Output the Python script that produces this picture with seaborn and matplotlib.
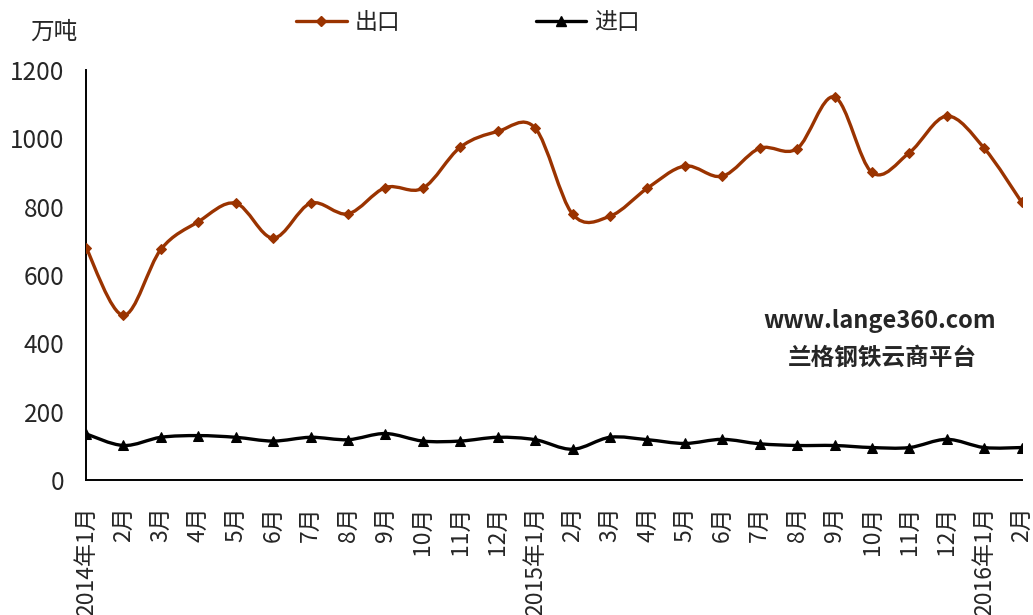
import numpy as np
import pandas as pd
import matplotlib
matplotlib.use("Agg")
import matplotlib.pyplot as plt
from matplotlib.path import Path
from matplotlib.patches import PathPatch
from matplotlib.lines import Line2D
import seaborn as sns

# Monthly steel trade, 2014-01 .. 2016-02 (10k tonnes)
month_labels = ["2014年1月", "2月", "3月", "4月", "5月", "6月", "7月", "8月", "9月",
                "10月", "11月", "12月",
                "2015年1月", "2月", "3月", "4月", "5月", "6月", "7月", "8月", "9月",
                "10月", "11月", "12月",
                "2016年1月", "2月"]
exports = [680, 482, 675, 756, 810, 708, 810, 779, 856, 854, 974, 1020,
           1030, 778, 772, 854, 919, 889, 971, 970, 1121, 900, 958, 1065,
           971, 813]
imports = [135, 101, 125, 130, 125, 114, 125, 118, 136, 114, 114, 125,
           118, 90, 125, 118, 107, 119, 106, 101, 101, 95, 95, 119,
           95, 95]

EXPORT_COLOR = "#9a3300"
IMPORT_COLOR = "#000000"

df = pd.DataFrame({"idx": np.arange(len(month_labels)),
                   "出口": exports, "进口": imports})

sns.set_theme(style="white")
plt.rcParams["font.family"] = ["Noto Sans CJK SC", "DejaVu Sans"]
plt.rcParams["axes.unicode_minus"] = False

fig = plt.figure(figsize=(10.33, 6.15), dpi=100)
ax = fig.add_axes([0.0833, 0.2195, 0.9057, 0.6667])


def smooth_path(xs, ys):
    """Cubic Bezier path through every point (Catmull-Rom style tangents)."""
    pts = np.column_stack([xs, ys]).astype(float)
    n = len(pts)
    verts = [pts[0]]
    codes = [Path.MOVETO]
    for i in range(n - 1):
        p0 = pts[i - 1] if i > 0 else pts[i]
        p1 = pts[i]
        p2 = pts[i + 1]
        p3 = pts[i + 2] if i + 2 < n else pts[i + 1]
        c1 = p1 + (p2 - p0) / 6.0
        c2 = p2 - (p3 - p1) / 6.0
        verts += [c1, c2, p2]
        codes += [Path.CURVE4] * 3
    return Path(verts, codes)


for col, color in (("进口", IMPORT_COLOR), ("出口", EXPORT_COLOR)):
    ax.add_patch(PathPatch(smooth_path(df["idx"], df[col]), facecolor="none",
                           edgecolor=color, lw=2.4, capstyle="round",
                           joinstyle="round", zorder=3))

sns.lineplot(data=df, x="idx", y="出口", ax=ax, color=EXPORT_COLOR,
             marker="D", markersize=5.5, markeredgecolor=EXPORT_COLOR,
             linestyle="", zorder=4)
sns.lineplot(data=df, x="idx", y="进口", ax=ax, color=IMPORT_COLOR,
             marker="^", markersize=7, markeredgecolor=IMPORT_COLOR,
             linestyle="", zorder=4)

ax.set_xlim(0, len(month_labels) - 1)
ax.set_ylim(0, 1200)
ax.set_yticks(np.arange(0, 1201, 200))
ax.set_xticks(df["idx"])
ax.set_xticklabels(month_labels, rotation=90, fontsize=16.5)
ax.tick_params(axis="y", labelsize=17.5)
ax.tick_params(axis="both", direction="in", length=5, width=1.3, color="black")
ax.tick_params(axis="y", pad=15.5)
ax.tick_params(axis="x", pad=19)
ax.set_xlabel("")
ax.set_ylabel("")

for side in ("top", "right"):
    ax.spines[side].set_visible(False)
for side in ("left", "bottom"):
    ax.spines[side].set_color("black")
    ax.spines[side].set_linewidth(1.4)

fig.text(0.052, 0.948, "万吨", fontsize=17, ha="center", va="center")

handles = [
    Line2D([], [], color=EXPORT_COLOR, lw=2.4, marker="D", markersize=5.5),
    Line2D([], [], color=IMPORT_COLOR, lw=2.4, marker="^", markersize=7),
]
fig.legend(handles, ["出口", "进口"], loc="center", bbox_to_anchor=(0.453, 0.963),
           ncol=2, frameon=False, fontsize=16.5, handlelength=2.2,
           handletextpad=0.35, columnspacing=5.9)

fig.text(0.852, 0.478, "www.lange360.com", fontsize=17,
         fontweight="bold", ha="center", va="center")
fig.text(0.854, 0.418, "兰格钢铁云商平台", fontsize=17,
         fontweight="bold", ha="center", va="center")

fig.savefig("out.png", dpi=100)
